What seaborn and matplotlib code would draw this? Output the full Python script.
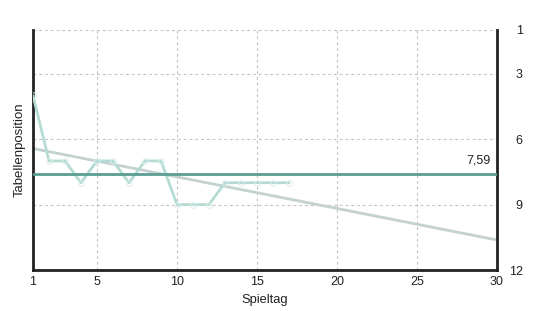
import numpy as np
import pandas as pd
import seaborn as sns
import matplotlib
matplotlib.use("Agg")
import matplotlib.pyplot as plt

spieltag = list(range(1, 18))
position = [4, 7, 7, 8, 7, 7, 8, 7, 7, 9, 9, 9, 8, 8, 8, 8, 8]
x_ticks = [1, 5, 10, 15, 20, 25, 30]
y_ticks = [1, 3, 6, 9, 12]

sns.set_theme(style="white")
plt.rcParams['font.family'] = ['Liberation Sans', 'DejaVu Sans']

df = pd.DataFrame({"Spieltag": spieltag, "Tabellenposition": position})
mean_val = float(np.mean(position))
slope, intercept = np.polyfit(spieltag, position, 1)
trend_x = np.array([1, 30])
trend_df = pd.DataFrame({"x": trend_x, "y": slope * trend_x + intercept})

fig = plt.figure(figsize=(5.35, 3.11), dpi=100)
ax = fig.add_axes([33/535, 41/311, 464/535, 240/311])

ax.set_xlim(1, 30)
ax.set_ylim(12, 1)

grid_kw = dict(color="#c4c4c4", lw=0.8, ls=(0, (2.6, 2.6)), zorder=0)
for xv in x_ticks[1:-1]:
    ax.axvline(xv, **grid_kw)
for yv in y_ticks[:-1]:
    ax.axhline(yv, **grid_kw)

sns.lineplot(data=trend_df, x="x", y="y", ax=ax, color="#c3d2d1", lw=2, zorder=2)
sns.lineplot(data=df, x="Spieltag", y="Tabellenposition", ax=ax, color="#b4dcd4",
             lw=2, marker="o", markersize=4, markerfacecolor="none",
             markeredgecolor="#dcefeb", markeredgewidth=0.7, zorder=3)
ax.axhline(mean_val, color="#5a9d93", lw=2, zorder=4)

ax.annotate(f"{mean_val:.2f}".replace(".", ","), xy=(30, mean_val), xytext=(-4.5, 5),
            textcoords="offset points", ha="right", va="bottom", fontsize=9, color="#222222")

ax.set_xticks(x_ticks)
ax.set_xticklabels([str(v) for v in x_ticks])
ax.set_yticks(y_ticks)
ax.set_yticklabels([str(v) for v in y_ticks])
ax.yaxis.tick_right()
ax.tick_params(axis="y", length=0, pad=18.5, labelsize=9, labelcolor="#222222")
ax.tick_params(axis="x", length=0, pad=4, labelsize=9, labelcolor="#222222")
for lab in ax.get_yticklabels():
    lab.set_ha("right")

ax.set_xlabel("Spieltag", fontsize=9.3, color="#222222", labelpad=5)
ax.set_ylabel("Tabellenposition", fontsize=9.5, color="#222222", labelpad=5)
ax.yaxis.set_label_position("left")

for side in ["left", "right", "bottom"]:
    ax.spines[side].set_visible(True)
    ax.spines[side].set_color("#222222")
    ax.spines[side].set_linewidth(2)
ax.spines["top"].set_visible(False)

fig.savefig("out.png", dpi=100)
